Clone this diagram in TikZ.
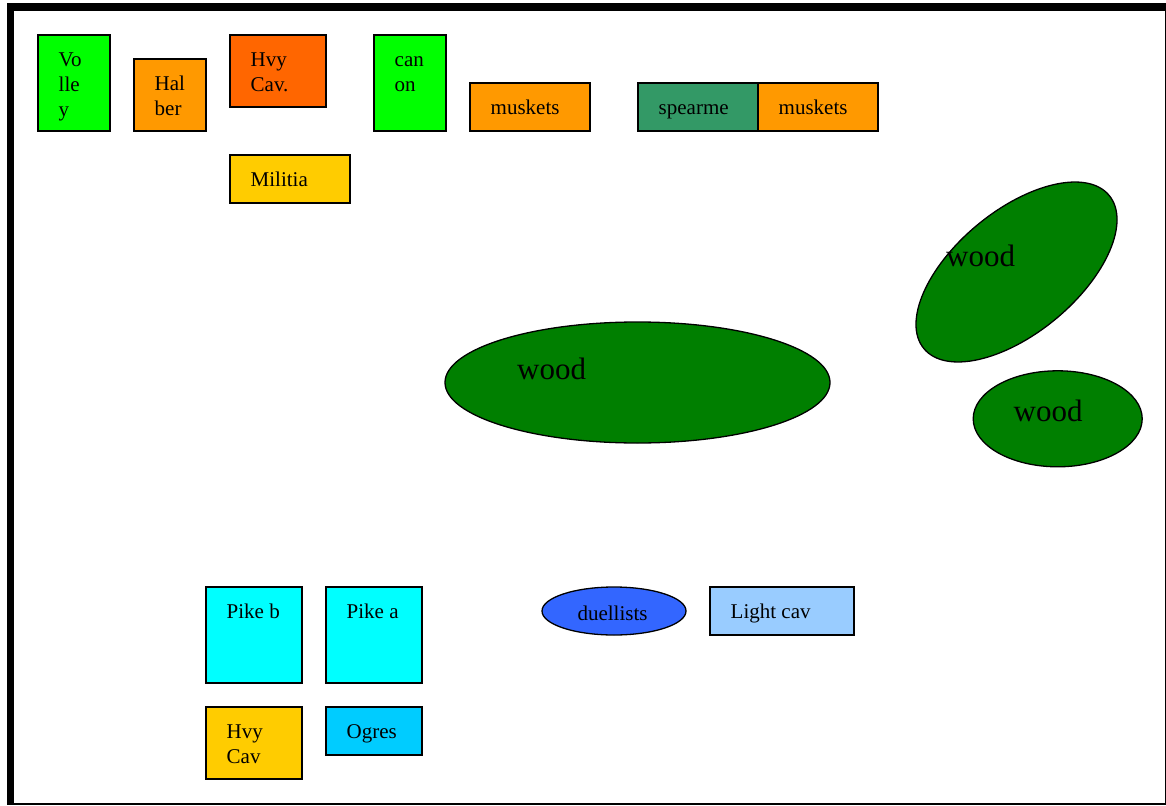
\documentclass[tikz,border=0pt]{standalone}
\usepackage{fontspec}
\setmainfont{Liberation Serif}
\usetikzlibrary{shapes.geometric,calc}
\definecolor{cgreen}{HTML}{00FF00}
\definecolor{corange}{HTML}{FF9900}
\definecolor{cred}{HTML}{FF6600}
\definecolor{cyellow}{HTML}{FFCC00}
\definecolor{csea}{HTML}{339966}
\definecolor{cwood}{HTML}{007F00}
\definecolor{ccyan}{HTML}{00FFFF}
\definecolor{csky}{HTML}{00CCFF}
\definecolor{cblue}{HTML}{3366FF}
\definecolor{clight}{HTML}{99CCFF}
\newcommand{\mlines}[1]{\begin{tabular}[t]{@{}l@{}}#1\end{tabular}}
\tikzset{
  unitbox/.style={draw=black, line width=1.6pt, rectangle, inner sep=0pt, outer sep=0pt, anchor=north west},
  lbl/.style={inner sep=0pt, anchor=base west, font=\rmfamily\fontsize{21}{25}\selectfont},
  woodshape/.style={draw=black, line width=1.3pt, ellipse, fill=cwood, inner sep=0pt, outer sep=0pt},
  woodlbl/.style={inner sep=0pt, anchor=base west, font=\rmfamily\fontsize{31}{36}\selectfont},
}
\begin{document}
\begin{tikzpicture}[x=1pt,y=-1pt]
\useasboundingbox (0,0) rectangle (1166,805);
\fill[white] (0,0) rectangle (1166,805);
\fill[black] (7,3) rectangle (1166,805);
\fill[white] (14,11) rectangle (1165,803);

% top row
\node[unitbox, fill=cgreen, minimum width=72pt, minimum height=96pt] (volley) at (38,35) {};
\node[lbl] (volleyt) at ($(volley.north west)+(20.5,31.5)$) {\mlines{Vo\\lle\\y}};
\node[unitbox, fill=corange, minimum width=72pt, minimum height=72pt] (halber) at (134,59) {};
\node[lbl] (halbert) at ($(halber.north west)+(20.5,31.5)$) {\mlines{Hal\\ber}};
\node[unitbox, fill=cred, minimum width=96pt, minimum height=72pt] (hvycava) at (230,35) {};
\node[lbl] (hvycavat) at ($(hvycava.north west)+(20.5,31.5)$) {\mlines{Hvy\\Cav.}};
\node[unitbox, fill=cyellow, minimum width=120pt, minimum height=48pt] (militia) at (230,155) {};
\node[lbl] (militiat) at ($(militia.north west)+(20.5,31.5)$) {Militia};
\node[unitbox, fill=cgreen, minimum width=72pt, minimum height=96pt] (canon) at (374,35) {};
\node[lbl] (canont) at ($(canon.north west)+(20.5,31.5)$) {\mlines{can\\on}};
\node[unitbox, fill=corange, minimum width=120pt, minimum height=48pt] (muska) at (470,83) {};
\node[lbl] (muskat) at ($(muska.north west)+(20.5,31.5)$) {muskets};
\node[unitbox, fill=csea, minimum width=120pt, minimum height=48pt] (spear) at (638,83) {};
\node[lbl] (speart) at ($(spear.north west)+(20.5,31.5)$) {spearme};
\node[unitbox, fill=corange, minimum width=120pt, minimum height=48pt] (muskb) at (758,83) {};
\node[lbl] (muskbt) at ($(muskb.north west)+(20.5,31.5)$) {muskets};

% woods
\node[woodshape, minimum width=385pt, minimum height=121pt] (wooda) at (637.5,382.5) {};
\node[woodlbl] (woodat) at (517,379) {wood};
\node[woodshape, minimum width=240.4pt, minimum height=122.4pt, rotate=39.6] (woodb) at (1016.5,272) {};
\node[woodlbl] (woodbt) at (946,266.5) {wood};
\node[woodshape, minimum width=169pt, minimum height=96pt] (woodc) at (1057.7,418.8) {};
\node[woodlbl] (woodct) at (1013.5,421.5) {wood};

% bottom
\node[unitbox, fill=ccyan, minimum width=96pt, minimum height=96pt] (pikeb) at (206,587) {};
\node[lbl] (pikebt) at ($(pikeb.north west)+(20.5,31.5)$) {Pike b};
\node[unitbox, fill=ccyan, minimum width=96pt, minimum height=96pt] (pikea) at (326,587) {};
\node[lbl] (pikeat) at ($(pikea.north west)+(20.5,31.5)$) {Pike a};
\node[unitbox, fill=cyellow, minimum width=96pt, minimum height=72pt] (hvycavb) at (206,707) {};
\node[lbl] (hvycavbt) at ($(hvycavb.north west)+(20.5,31.5)$) {\mlines{Hvy\\Cav}};
\node[unitbox, fill=csky, minimum width=96pt, minimum height=48pt] (ogres) at (326,707) {};
\node[lbl] (ogrest) at ($(ogres.north west)+(20.5,31.5)$) {Ogres};
\node[draw=black, line width=1.3pt, ellipse, fill=cblue, inner sep=0pt, outer sep=0pt, minimum width=144pt, minimum height=48pt] (duel) at (614,611) {};
\node[inner sep=0pt, anchor=base, font=\rmfamily\fontsize{21}{25}\selectfont] (duelt) at (612.5,620.5) {duellists};
\node[unitbox, fill=clight, minimum width=144pt, minimum height=48pt] (light) at (710,587) {};
\node[lbl] (lightt) at ($(light.north west)+(20.5,31.5)$) {Light cav};
\end{tikzpicture}
\end{document}
